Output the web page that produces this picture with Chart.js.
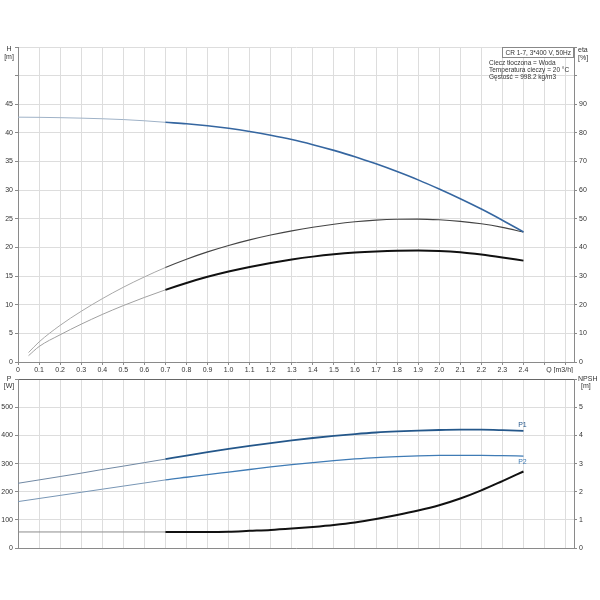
<!DOCTYPE html>
<html>
<head>
<meta charset="utf-8">
<title>CR 1-7, 3*400 V, 50Hz</title>
<script src="https://cdn.jsdelivr.net/npm/chart.js@4.4.1/dist/chart.umd.min.js"></script>
<style>
	body {margin: 0; background: #fff;}
	#wrap {position: relative; width: 600px; height: 600px;}
	canvas {position: absolute; left: 0;}
	#chart_head {top: 0;}
	#chart_power {top: 373px;}
</style>
</head>
<body>
<div id="wrap">
	<canvas id="chart_head" width="600" height="373"></canvas>
	<canvas id="chart_power" width="600" height="227"></canvas>
</div>
<script>
'use strict';

// Q [m3/h]
const flow = [0, 0.1, 0.2, 0.3, 0.4, 0.5, 0.6, 0.7, 0.8, 0.9, 1.0, 1.1, 1.2,
	1.3, 1.4, 1.5, 1.6, 1.7, 1.8, 1.9, 2.0, 2.1, 2.2, 2.3, 2.4];
// H [m]
const head = [42.75, 42.72, 42.66, 42.58, 42.47, 42.33, 42.12, 41.85, 41.6, 41.25, 40.8, 40.25, 39.6,
	38.85, 37.95, 36.95, 35.85, 34.6, 33.25, 31.8, 30.2, 28.5, 26.7, 24.75, 22.7];
// eta curves start a bit later
const flowEta = [0.05, 0.1, 0.2, 0.3, 0.4, 0.5, 0.6, 0.7, 0.8, 0.9, 1.0, 1.1, 1.2,
	1.3, 1.4, 1.5, 1.6, 1.7, 1.8, 1.9, 2.0, 2.1, 2.2, 2.3, 2.4];
const etaPump = [3.3, 7.0, 12.8, 17.7, 22.1, 26.1, 29.7, 33.0, 35.9, 38.45, 40.7, 42.65, 44.35,
	45.8, 47.05, 48.1, 48.95, 49.55, 49.85, 49.9, 49.65, 49.1, 48.25, 47.0, 45.4];
const etaTotal = [2.2, 5.4, 9.5, 13.2, 16.6, 19.7, 22.55, 25.2, 27.6, 29.75, 31.6, 33.2, 34.6,
	35.8, 36.8, 37.6, 38.2, 38.6, 38.85, 38.9, 38.75, 38.3, 37.5, 36.5, 35.4];
// P [W]
const powerP1 = [230, 242, 254, 266, 279, 291, 303.5, 316, 328.5, 340.5, 352, 363, 373,
	382.5, 391, 398.5, 405, 410.5, 414.5, 417.5, 419.5, 420.5, 420.5, 419, 416.5];
const powerP2 = [165, 176, 187, 198, 209, 220, 231, 242, 251.5, 261, 270, 279, 288,
	296, 303.5, 310.5, 316.5, 321.5, 325, 327.5, 329, 329.5, 329.5, 328.5, 326.5];
// NPSH [m]
const npsh = [0.57, 0.57, 0.57, 0.57, 0.57, 0.57, 0.57, 0.57, 0.57, 0.57, 0.58, 0.61, 0.64,
	0.69, 0.75, 0.82, 0.91, 1.03, 1.17, 1.33, 1.52, 1.76, 2.05, 2.38, 2.72];

const infoTitle = 'CR 1-7, 3*400 V, 50Hz';
const infoLines = ['Ciecz tłoczona = Woda', 'Temperatura cieczy = 20 °C', 'Gęstość = 998.2 kg/m3'];

const FONT = "'Liberation Sans', Arial, sans-serif";
const DUTY_START = 0.7;
const GRID = '#dddddd';
const AXIS = '#8a8a8a';
const TEXT = '#333333';

Chart.defaults.font.family = FONT;
Chart.defaults.font.size = 7;
Chart.defaults.color = TEXT;

function points(xs, ys) {
	return xs.map((x, i) => ({x: x, y: ys[i]}));
}

// thin light line until the duty range starts, then the real colour
function line(label, xs, ys, axis, light, dark, width) {
	return {
		label: label,
		data: points(xs, ys),
		yAxisID: axis,
		borderColor: dark,
		borderWidth: width,
		pointRadius: 0,
		cubicInterpolationMode: 'monotone',
		segment: {
			borderColor: ctx => ctx.p0.parsed.x < DUTY_START - 1e-6 ? light : dark,
			borderWidth: ctx => ctx.p0.parsed.x < DUTY_START - 1e-6 ? 1 : width,
		},
	};
}

function xScale(showTicks, height) {
	return {
		type: 'linear',
		min: 0,
		max: 2.64,
		border: {color: AXIS},
		grid: {color: GRID, tickColor: AXIS, tickLength: 3, drawTicks: showTicks},
		ticks: {
			display: showTicks,
			stepSize: 0.1,
			includeBounds: false,
			autoSkip: false,
			maxRotation: 0,
			maxTicksLimit: 100,
			padding: 1,
			callback: v => v > 2.45 ? '' : (v === 0 ? '0' : v.toFixed(1)),
		},
		afterFit: scale => { scale.height = height; },
	};
}

function yScale(position, max, step, lastLabel, onArea, borderTop) {
	return {
		type: 'linear',
		position: position,
		min: 0,
		max: max,
		border: {color: AXIS},
		grid: {
			drawOnChartArea: onArea,
			color: ctx => (borderTop && ctx.tick.value === max) ? '#666' : GRID,
			tickColor: AXIS,
			tickLength: 3,
		},
		ticks: {
			stepSize: step,
			padding: 2,
			callback: v => v > lastLabel ? '' : v,
		},
		afterFit: scale => { scale.width = position === 'left' ? 18 : 26; },
	};
}

function text(ctx, str, x, y, align, color) {
	ctx.fillStyle = color || TEXT;
	ctx.textAlign = align;
	ctx.textBaseline = 'middle';
	ctx.fillText(str, x, y);
}

const headLabels = {
	id: 'headLabels',
	afterDraw(chart) {
		let ctx = chart.ctx,
			area = chart.chartArea;
		ctx.save();
		ctx.font = '7px ' + FONT;
		text(ctx, 'H', 9, 49, 'center');
		text(ctx, '[m]', 9, 57, 'center');
		text(ctx, 'eta', 578, 50, 'left');
		text(ctx, '[%]', 578, 58, 'left');
		text(ctx, 'Q [m3/h]', area.right - 1, 370, 'right');
		// info box
		ctx.font = '6.5px ' + FONT;
		ctx.strokeStyle = '#888';
		ctx.lineWidth = 1;
		ctx.fillStyle = '#fff';
		ctx.fillRect(502.5, area.top + 0.5, area.right - 503, 10);
		ctx.strokeRect(502.5, area.top + 0.5, area.right - 503, 10);
		text(ctx, infoTitle, area.right - 3, area.top + 6, 'right');
		infoLines.forEach((str, i) => text(ctx, str, 489, 63.5 + i * 7, 'left'));
		ctx.restore();
	},
};

const powerLabels = {
	id: 'powerLabels',
	afterDraw(chart) {
		let ctx = chart.ctx,
			p1 = chart.getDatasetMeta(0).data,
			p2 = chart.getDatasetMeta(1).data,
			last1 = p1[p1.length - 1],
			last2 = p2[p2.length - 1];
		ctx.save();
		ctx.font = '7px ' + FONT;
		text(ctx, 'P', 9, 6.5, 'center');
		text(ctx, '[W]', 9, 13.5, 'center');
		text(ctx, 'NPSH', 578, 6.5, 'left');
		text(ctx, '[m]', 581, 13.5, 'left');
		text(ctx, 'P1', last1.x - 1, last1.y - 6, 'center', '#24578a');
		text(ctx, 'P2', last2.x - 1, last2.y + 6, 'center', '#3f7bb5');
		ctx.restore();
	},
};

function makeHeadConfig() {
	return {
		type: 'line',
		data: {
			datasets: [
				line('H', flow, head, 'yH', '#9fb2c7', '#3566a0', 1.6),
				line('eta', flowEta, etaPump, 'yEta', '#a8a8a8', '#444444', 1.1),
				line('eta', flowEta, etaTotal, 'yEta', '#a0a0a0', '#111111', 2),
			],
		},
		options: {
			responsive: false,
			animation: false,
			layout: {padding: {top: 47, left: 0, right: 0, bottom: 0}},
			plugins: {legend: {display: false}, tooltip: {enabled: false}},
			scales: {
				x: xScale(true, 11),
				yH: yScale('left', 55, 5, 45, true, false),
				yEta: yScale('right', 110, 10, 90, false, false),
			},
		},
		plugins: [headLabels],
	};
}

function makePowerConfig() {
	return {
		type: 'line',
		data: {
			datasets: [
				line('P1', flow, powerP1, 'yP', '#7088a3', '#24578a', 1.8),
				line('P2', flow, powerP2, 'yP', '#7896b5', '#3f7bb5', 1.3),
				line('NPSH', flow, npsh, 'yNpsh', '#8c8c8c', '#111111', 2),
			],
		},
		options: {
			responsive: false,
			animation: false,
			layout: {padding: {top: 1, left: 0, right: 0, bottom: 0}},
			plugins: {legend: {display: false}, tooltip: {enabled: false}},
			scales: {
				x: xScale(false, 52),
				yP: yScale('left', 600, 100, 500, true, true),
				yNpsh: yScale('right', 6, 1, 5, false, false),
			},
		},
		plugins: [powerLabels],
	};
}

function renderChart(select, config) {
	let ctx = document.getElementById(select).getContext('2d');
	if (select === 'chart_head') {
		window.ChartHead = new Chart(ctx, config);
	} else {
		window.ChartPower = new Chart(ctx, config);
	}
}

renderChart('chart_head', makeHeadConfig());
renderChart('chart_power', makePowerConfig());
</script>
</body>
</html>
